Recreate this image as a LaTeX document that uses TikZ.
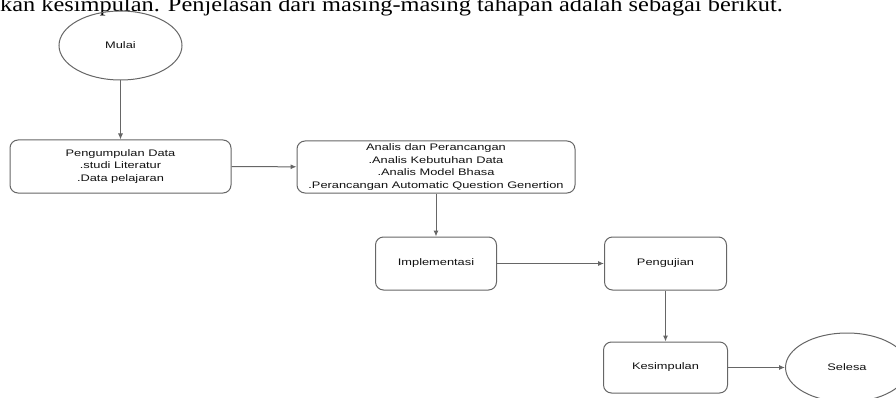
\documentclass[tikz,border=0pt]{standalone}
\usepackage{fontspec}
\newfontfamily\flowfont[FakeStretch=1.35]{Liberation Sans}
\newfontfamily\bodyfont[FakeStretch=1.16]{Liberation Serif}
\usetikzlibrary{shapes.geometric,arrows.meta}
\definecolor{linegray}{HTML}{666666}
\definecolor{textgray}{HTML}{111111}
\tikzset{
  stage box/.style={
    rectangle,
    rounded corners=8pt,
    draw=linegray,
    line width=1pt,
    align=center,
    inner sep=0pt,
    text=textgray,
    font=\flowfont\fontsize{9.5}{12.5}\selectfont,
    minimum width=#1,
    minimum height=53pt,
  },
  stage box/.default=122pt,
  terminal/.style={
    ellipse,
    draw=linegray,
    line width=1pt,
    inner sep=0pt,
    text=textgray,
    font=\flowfont\fontsize{9.5}{12.5}\selectfont,
    minimum width=123pt,
    minimum height=69pt,
  },
  flow/.style={
    draw=linegray,
    line width=1pt,
    -{Latex[length=6pt,width=5pt]}
  }
}

\begin{document}
\begin{tikzpicture}[x=1pt,y=-1pt]
\useasboundingbox (0,0) rectangle (896,398);
\node[anchor=base west, inner sep=0pt, font=\bodyfont\fontsize{21}{21}\selectfont] (kalimat) at (0,11.7)
  {kan kesimpulan. Penjelasan dari masing-masing tahapan adalah sebagai berikut.};

\node[terminal] (mulai) at (120.5,45.5) {Mulai};
\node[stage box=221pt] (data) at (120.5,166.5)
  {Pengumpulan Data\\.studi Literatur\\.Data pelajaran};
\node[stage box=278pt, minimum height=52pt] (analisis) at (436,167)
  {Analis dan Perancangan\\.Analis Kebutuhan Data\\.Analis Model Bhasa\\.Perancangan Automatic Question Genertion};
\node[stage box=121pt] (implementasi) at (436,263.5) {Implementasi};
\node[stage box] (pengujian) at (665.5,263.5) {Pengujian};
\node[stage box=124pt, minimum height=51pt] (kesimpulan) at (665.5,367.5) {Kesimpulan};
\node[terminal] (selesai) at (847,367.5) {Selesa};

\draw[flow] (mulai) -- (data);
\draw[flow] (data) -- (analisis);
\draw[flow] (analisis) -- (implementasi);
\draw[flow] (implementasi) -- (pengujian);
\draw[flow] (pengujian) -- (kesimpulan);
\draw[flow] (kesimpulan) -- (selesai);
\end{tikzpicture}
\end{document}
